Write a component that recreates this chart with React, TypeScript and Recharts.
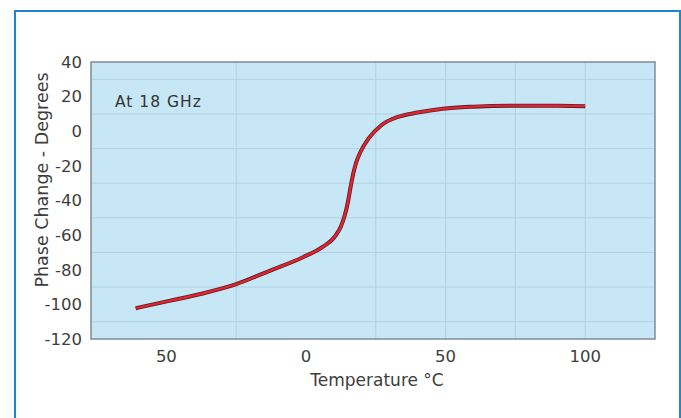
import React from "react";
import {
  LineChart,
  Line,
  XAxis,
  YAxis,
  CartesianGrid,
  ReferenceArea,
  Label,
} from "recharts";

const temperatures = [-61, -49, -37, -25, -13, -1.3, 5.8, 10.6, 12.5, 14, 15, 16, 17, 18, 19.5, 22.5, 27, 33, 40, 49, 60, 75, 90, 100];
const phaseChange = [-102.2, -98, -93.7, -88.3, -80.6, -72.9, -67, -60.3, -55, -48, -41, -32, -24, -18, -12, -4, 3.5, 8.3, 10.8, 13, 14.2, 14.8, 14.7, 14.5];

const xTicks = [-50, 0, 50, 100];
const yTicks = [-120, -100, -80, -60, -40, -20, 0, 20, 40];
const yGrid = [-110, -100, -90, -80, -70, -60, -50, -40, -30, -20, -10, 0, 10, 20, 30];
const xGrid = [-25, 25, 50, 75, 100];
const xDomain = [-77, 125];
const yDomain = [-120, 40];

const data = temperatures.map((t, i) => ({ t, p: phaseChange[i] }));

const FONT = "'DejaVu Sans', Verdana, sans-serif";
const TXT = "#3d3d3d";

export default function App() {
  return (
    <div style={{ position: "absolute", left: 0, top: 0, width: 681, height: 418, background: "#fff", overflow: "hidden" }}>
      <div
        style={{
          position: "absolute",
          left: 14,
          top: 10,
          width: 663,
          height: 430,
          borderTop: "2.5px solid #1c86d1",
          borderLeft: "2.5px solid #1c86d1",
          borderRight: "2.5px solid #1c86d1",
        }}
      />
      <div style={{ position: "absolute", left: 0, top: 0 }}>
        <LineChart
          width={681}
          height={418}
          data={data}
          margin={{ top: 62, right: 26, bottom: 29, left: 0 }}
        >
          <CartesianGrid
            fill="#c7e7f6"
            stroke="#afd2e3"
            horizontalValues={yGrid}
            verticalValues={xGrid}
          />
          <XAxis
            dataKey="t"
            type="number"
            domain={xDomain}
            ticks={xTicks}
            allowDataOverflow
            height={50}
            tickSize={0}
            tickMargin={11}
            axisLine={false}
            tickLine={false}
            tick={{ fill: TXT, fontSize: 16.5, fontFamily: FONT }}
            tickFormatter={(v: number) => String(Math.abs(v))}
          >
            <Label
              content={() => (
                <text x={377} y={386} textAnchor="middle" fill={TXT} fontSize={17} fontFamily={FONT}>
                  Temperature °C
                </text>
              )}
            />
          </XAxis>
          <YAxis
            type="number"
            domain={yDomain}
            ticks={yTicks}
            allowDataOverflow
            width={91}
            tickSize={0}
            tickMargin={9}
            axisLine={false}
            tickLine={false}
            tick={{ fill: TXT, fontSize: 16.5, fontFamily: FONT }}
          >
            <Label
              content={() => (
                <text
                  x={48}
                  y={180}
                  transform="rotate(-90 48 180)"
                  textAnchor="middle"
                  fill={TXT}
                  fontSize={17.5}
                  fontFamily={FONT}
                >
                  Phase Change - Degrees
                </text>
              )}
            />
          </YAxis>
          <ReferenceArea
            x1={xDomain[0]}
            x2={xDomain[1]}
            y1={yDomain[0]}
            y2={yDomain[1]}
            fill="none"
            stroke="#7f8c94"
            strokeWidth={1.5}
            ifOverflow="visible"
            label={{ value: "At 18 GHz", content: () => (
              <text x={115} y={107} fill="#333" fontSize={15.5} letterSpacing={1} fontFamily={FONT}>At 18 GHz</text>
            ) }}
          />
          <Line
            dataKey="p"
            type="monotone"
            stroke="#5a1c2a"
            strokeWidth={4}
            dot={false}
            isAnimationActive={false}
          />
          <Line
            dataKey="p"
            type="monotone"
            stroke="#e0262c"
            strokeWidth={2.4}
            dot={false}
            isAnimationActive={false}
          />
        </LineChart>
      </div>
    </div>
  );
}
